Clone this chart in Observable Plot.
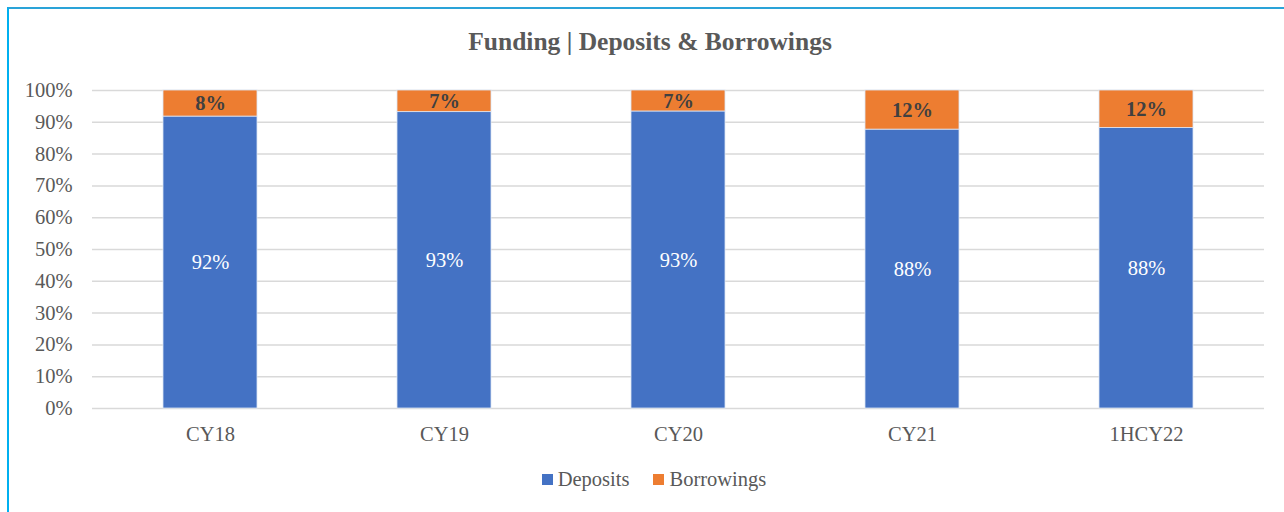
<!DOCTYPE html>
<html>
<head>
<meta charset="utf-8">
<script src="https://cdn.jsdelivr.net/npm/d3@7"></script>
<script src="https://cdn.jsdelivr.net/npm/@observablehq/plot@0.6"></script>
<style>
  html, body { margin: 0; padding: 0; background: #fff; }
  #wrap { position: relative; width: 1284px; height: 512px; overflow: hidden; font-family: "Liberation Serif", serif; }
  #border { position: absolute; left: 7px; top: 7px; right: 0; bottom: 0; border-left: 2px solid #00b0f0; border-top: 2px solid #2aa3d8; }
  #title { position: absolute; left: 0; width: 1300px; top: 27px; text-align: center; font-weight: bold; font-size: 25.5px; color: #595959; font-family: "Liberation Serif", serif; }
  #chart { position: absolute; left: 0; top: 0; }
  #chart svg text { font-family: "Liberation Serif", serif !important; }
  #legend { position: absolute; left: 0; width: 1308px; top: 468px; text-align: center; font-size: 20.5px; color: #595959; font-family: "Liberation Serif", serif !important; }
  #legend span.item { margin: 0 12px; font-family: "Liberation Serif", serif !important; }
  #legend span.sw { display: inline-block; width: 11px; height: 11px; margin-right: 5px; vertical-align: 1px; }
</style>
</head>
<body>
<div id="wrap">
  <div id="border"></div>
  <div id="chart"></div>
  <div id="title">Funding | Deposits &amp; Borrowings</div>
  <div id="legend"></div>
</div>
<script>
const periods = ["CY18", "CY19", "CY20", "CY21", "1HCY22"];
const deposits = [91.8, 93.2, 93.4, 87.7, 88.2];
const borrowings = [8.2, 6.8, 6.6, 12.3, 11.8];
const depositLabels = ["92%", "93%", "93%", "88%", "88%"];
const borrowingLabels = ["8%", "7%", "7%", "12%", "12%"];
const seriesNames = ["Deposits", "Borrowings"];
const seriesColors = ["#4472c4", "#ed7d31"];
const yTicks = [0, 10, 20, 30, 40, 50, 60, 70, 80, 90, 100];

const rows = [];
periods.forEach((p, i) => {
  rows.push({period: p, series: "Deposits", value: deposits[i], label: depositLabels[i]});
  rows.push({period: p, series: "Borrowings", value: borrowings[i], label: borrowingLabels[i]});
});

const font = "'Liberation Serif', serif";

const chart = Plot.plot({
  width: 1284,
  height: 460,
  marginLeft: 92,
  marginRight: 20,
  marginTop: 90,
  marginBottom: 52,
  style: { fontFamily: font, fontSize: "20.5px", color: "#595959", background: "transparent" },
  x: { domain: periods, paddingInner: 0.6, paddingOuter: 0.3, label: null, tickSize: 0, tickPadding: 18 },
  y: { domain: [0, 100], ticks: yTicks, tickFormat: d => d + "%", label: null, tickSize: 0, tickPadding: 20 },
  color: { domain: seriesNames, range: seriesColors },
  marks: [
    Plot.ruleY(yTicks, { stroke: "#d9d9d9", strokeWidth: 1.5 }),
    Plot.barY(rows, Plot.stackY({
      x: "period", y: "value", fill: "series", order: seriesNames,
      stroke: "#dde6f5", strokeWidth: 0.8
    })),
    Plot.text(rows.filter(d => d.series === "Deposits"), Plot.stackY({
      x: "period", y: "value", z: "series", order: seriesNames, text: "label",
      fill: "white", fontSize: 20.5
    })),
    Plot.text(rows.filter(d => d.series === "Borrowings"), {
      x: "period", y: (d) => 100 - d.value / 2, text: "label",
      fill: "#404040", fontSize: 20.5, fontWeight: "bold"
    })
  ]
});
document.getElementById("chart").appendChild(chart);

const legend = document.getElementById("legend");
seriesNames.forEach((n, i) => {
  const s = document.createElement("span");
  s.className = "item";
  s.innerHTML = `<span class="sw" style="background:${seriesColors[i]}"></span>${n}`;
  legend.appendChild(s);
});
</script>
</body>
</html>
